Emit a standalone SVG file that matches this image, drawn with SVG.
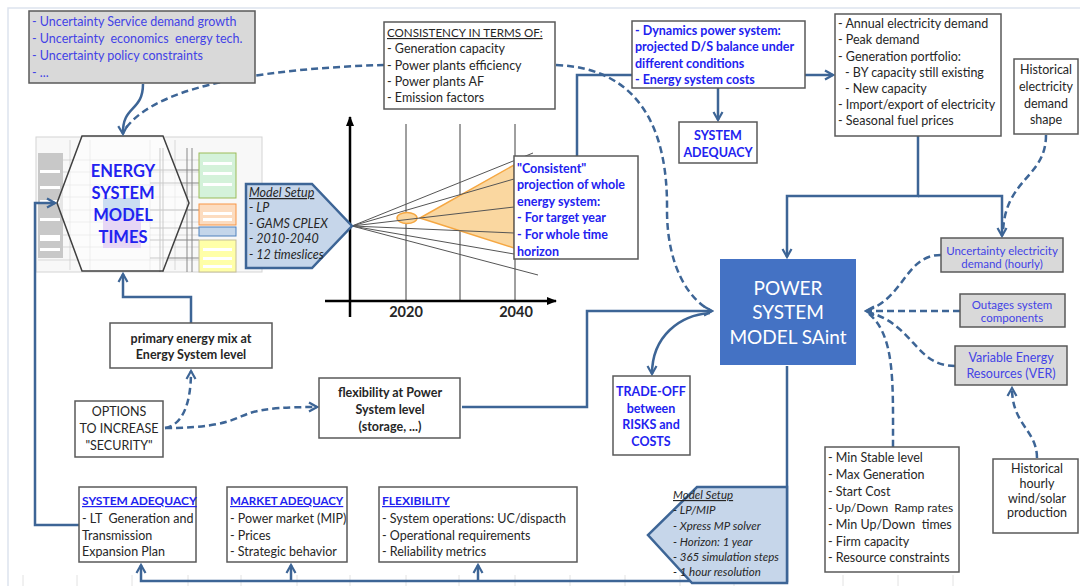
<svg xmlns="http://www.w3.org/2000/svg" width="1080" height="586" viewBox="0 0 1080 586">
<style>
.box{fill:#fff;stroke:#595959;stroke-width:1.5}
.gbox{fill:#d9d9d9;stroke:#595959;stroke-width:1.5}
.t{font-family:Lato,"Liberation Sans",sans-serif;font-size:12.5px;fill:#262626;white-space:pre}
.b{font-weight:bold}
.blue{fill:#2222f0}
.lblue{fill:#4343e6}
.u{text-decoration:underline}
.c{text-anchor:middle}
.i{font-style:italic}
.con{fill:none;stroke:#3d6596;stroke-width:2.5}
.dash{stroke-dasharray:7 4}
.pent{fill:#c6d6ea;stroke:#3d6596;stroke-width:2.5}
.grid{stroke:#cfcfcf;stroke-width:0.8}
.fan{stroke:#555;stroke-width:1}
</style>
<defs>
<marker id="ah" viewBox="0 0 12 12" refX="10" refY="6" markerWidth="12" markerHeight="12" markerUnits="userSpaceOnUse" orient="auto">
<path d="M2,1.5 L10,6 L2,10.5" fill="none" stroke="#3d6596" stroke-width="2.2"/>
</marker>
<marker id="ax" viewBox="0 0 10 10" refX="9" refY="5" markerWidth="10" markerHeight="10" markerUnits="userSpaceOnUse" orient="auto">
<path d="M0,1 L10,5 L0,9 Z" fill="#000"/>
</marker>
</defs>
<rect width="1080" height="586" fill="#fff"/>
<path d="M8,586 V8 H1080" fill="none" stroke="#dde3ee" stroke-width="1.5"/>
<g stroke="#e2e2e2" stroke-width="1">
<path d="M23,575V586M77,575V586M132,575V586M188,575V586M241,575V586M297,575V586M350,575V586M406,575V586M459,575V586M515,575V586M570,575V586M625,575V586M680,575V586M734,575V586M843,575V586M898,575V586M953,575V586"/>
</g>

<!-- Energy system model image -->
<g id="energy-system-model">
<rect x="36" y="137" width="226" height="135" fill="#f8f8f8" stroke="#d4d4d4" stroke-width="1"/>
<g class="grid">
<path d="M38,160H236M38,172H236M38,185H236M38,197H236M38,210H236M38,222H236M38,235H236M38,247H236M38,260H236"/>
<path d="M70,140V270M90,140V270M150,140V270M175,140V270"/>
</g>
<rect x="38" y="153" width="25" height="105" fill="#c8c8c8"/>
<g fill="#fff"><rect x="40" y="170" width="20" height="3"/><rect x="40" y="186" width="20" height="3"/><rect x="40" y="200" width="20" height="3"/><rect x="40" y="218" width="20" height="3"/><rect x="40" y="235" width="20" height="6"/><rect x="40" y="248" width="20" height="3"/></g>
<g stroke="#888" stroke-width="1"><path d="M160,148V272M163,148V272M187,148V272M192,148V272"/><path d="M150,170H199M150,183H199M150,210H199M150,228H199M150,240H199M150,258H199"/></g>
<rect x="199" y="153" width="37" height="45" fill="#d4f2da" stroke="#9bbb59"/>
<rect x="199" y="204" width="37" height="21" fill="#fcdcc0" stroke="#f79646"/>
<rect x="199" y="227" width="37" height="9" fill="#c4d6ea" stroke="#4f81bd"/>
<rect x="199" y="240" width="37" height="32" fill="#ffffa8" stroke="#c4bd97"/>
<g fill="#fff"><rect x="203" y="162" width="29" height="3"/><rect x="203" y="172" width="29" height="3"/><rect x="203" y="183" width="29" height="3"/><rect x="203" y="212" width="29" height="3"/><rect x="203" y="218" width="29" height="3"/><rect x="203" y="248" width="29" height="3"/><rect x="203" y="257" width="29" height="3"/><rect x="203" y="265" width="29" height="3"/></g>
<rect x="103" y="198" width="37" height="20" fill="#8db3e2"/>
<rect x="103" y="218" width="38" height="30" fill="#c9a6e8"/>
<polygon points="82,136 163,136 189,203 163,271 82,271 57,203" fill="#fff" fill-opacity="0.55" stroke="#404040" stroke-width="1.5"/>
<text class="t b blue c" style="font-size:16.5px" x="123" y="177">ENERGY</text>
<text class="t b blue c" style="font-size:16.5px" x="123" y="199">SYSTEM</text>
<text class="t b blue c" style="font-size:16.5px" x="123" y="221">MODEL</text>
<text class="t b blue c" style="font-size:16.5px" x="123" y="243">TIMES</text>
</g>

<!-- chart -->
<g id="chart">
<path d="M406,124V301M460,124V301M515,124V301" stroke="#404040" stroke-width="1"/>
<polygon points="420,218 514,165 514,248" fill="#fad7a0" stroke="#f5a742" stroke-width="1.5"/>
<ellipse cx="407" cy="218" rx="10" ry="5.5" fill="#fad7a0" stroke="#f5a742" stroke-width="1.5"/>
<g class="fan">
<path d="M352,226L533,153M352,226L514,179M352,226L514,207M352,226L514,233M352,226L514,254M352,226L538,275"/>
</g>
<path d="M350,317V117" stroke="#000" stroke-width="2.5" marker-end="url(#ax)"/>
<path d="M325,301H556" stroke="#000" stroke-width="2.5" marker-end="url(#ax)"/>
<text class="t b c" style="font-size:14.5px" x="406" y="317">2020</text>
<text class="t b c" style="font-size:14.5px" x="516" y="317">2040</text>
</g>

<!-- connectors -->
<g id="connectors">
<path class="con" d="M143,84 C143,112 122,105 123,134" marker-end="url(#ah)"/>
<path class="con dash" d="M384,65 C280,68 160,82 126,128"/>
<path class="con" d="M577,156 V75 H632"/>
<path class="con" d="M805,75 H833" marker-end="url(#ah)"/>
<path class="con" d="M718,88 V120" marker-end="url(#ah)"/>
<path class="con" d="M918,136 V196 H787 V257" marker-end="url(#ah)"/>
<path class="con" d="M918,196 H1002 V236" marker-end="url(#ah)"/>
<path class="con dash" d="M1046,135 C1046,178 1005,178 1003,232"/>
<path class="con" d="M462,407 H587 V311 H712" marker-end="url(#ah)"/>
<path class="con dash" d="M556,65 C640,68 668,130 667,210 C667,268 690,300 710,310"/>
<path class="con" d="M710,313 C680,315 652,336 652,374" marker-end="url(#ah)"/>
<path class="con dash" d="M941,255 C905,255 905,298 866,311"/>
<path class="con dash" d="M960,311 H866" marker-end="url(#ah)"/>
<path class="con dash" d="M955,366 C915,366 915,325 868,312"/>
<path class="con dash" d="M893,447 C893,380 895,335 868,313"/>
<path class="con dash" d="M1037,458 C1037,430 1012,425 1012,388" marker-end="url(#ah)"/>
<path class="con" d="M79,525 H35 V203 H55" marker-end="url(#ah)"/>
<path class="con" d="M191,323 V297 H123 V274" marker-end="url(#ah)"/>
<path class="con" d="M787,366 V581 H141 V565" marker-end="url(#ah)"/>
<path class="con" d="M291,581 V565" marker-end="url(#ah)"/>
<path class="con" d="M478,581 V565" marker-end="url(#ah)"/>
<path class="con dash" d="M165,428 C182,425 191,405 191,371" marker-end="url(#ah)"/>
<path class="con dash" d="M165,428 C225,428 235,418 250,413 C265,408 290,407 317,407" marker-end="url(#ah)"/>
</g>

<g id="uncertainty-es">
<rect class="gbox" x="29" y="11" width="226" height="72"/>
<text class="t lblue" x="32" y="26">- Uncertainty Service demand growth</text>
<text class="t lblue" x="32" y="43">- Uncertainty  economics  energy tech.</text>
<text class="t lblue" x="32" y="60">- Uncertainty policy constraints</text>
<text class="t lblue" x="32" y="77">- ...</text>
</g>

<g id="model-setup-es">
<polygon class="pent" points="246,184 312,184 352,226 312,268 246,268"/>
<text class="t i u" x="249" y="197">Model Setup</text>
<text class="t i" x="249" y="212">- LP</text>
<text class="t i" x="249" y="228">- GAMS CPLEX</text>
<text class="t i" x="249" y="243">- 2010-2040</text>
<text class="t i" x="249" y="259">- 12 timeslices</text>
</g>

<g id="consistency">
<rect class="box" x="384" y="22" width="171" height="87"/>
<text class="t u" style="font-size:11.6px" x="387" y="37">CONSISTENCY IN TERMS OF:</text>
<text class="t" x="387" y="53">- Generation capacity</text>
<text class="t" x="387" y="70">- Power plants efficiency</text>
<text class="t" x="387" y="86">- Power plants AF</text>
<text class="t" x="387" y="102">- Emission factors</text>
</g>

<g id="dynamics">
<rect class="box" x="632" y="21" width="173" height="67"/>
<text class="t b blue" x="635" y="35">- Dynamics power system:</text>
<text class="t b blue" x="635" y="51">projected D/S balance under</text>
<text class="t b blue" x="635" y="68">different conditions</text>
<text class="t b blue" x="635" y="84">- Energy system costs</text>
</g>

<g id="system-adequacy-top">
<rect class="box" x="679" y="122" width="78" height="41"/>
<text class="t b blue c" x="718" y="140">SYSTEM</text>
<text class="t b blue c" x="718" y="157">ADEQUACY</text>
</g>

<g id="annual">
<rect class="box" x="835" y="14" width="166" height="122"/>
<text class="t" x="838" y="28">- Annual electricity demand</text>
<text class="t" x="838" y="44">- Peak demand</text>
<text class="t" x="838" y="61">- Generation portfolio:</text>
<text class="t" x="845" y="77">- BY capacity still existing</text>
<text class="t" x="845" y="93">- New capacity</text>
<text class="t" x="838" y="109">- Import/export of electricity</text>
<text class="t" x="838" y="125">- Seasonal fuel prices</text>
</g>

<g id="hist-demand">
<rect class="box" x="1014" y="59" width="64" height="75"/>
<text class="t c" x="1046" y="74">Historical</text>
<text class="t c" x="1046" y="91">electricity</text>
<text class="t c" x="1046" y="108">demand</text>
<text class="t c" x="1046" y="124">shape</text>
</g>

<g id="consistent">
<rect class="box" x="514" y="156" width="124" height="103"/>
<text class="t b blue" x="517" y="173">"Consistent"</text>
<text class="t b blue" x="517" y="189">projection of whole</text>
<text class="t b blue" x="517" y="206">energy system:</text>
<text class="t b blue" x="517" y="222">- For target year</text>
<text class="t b blue" x="517" y="239">- For whole time</text>
<text class="t b blue" x="517" y="256">horizon</text>
</g>

<g id="power-system">
<rect x="720" y="259" width="136" height="106" fill="#4472c4"/>
<text class="t c" style="font-size:19px;fill:#fff" x="788" y="295">POWER</text>
<text class="t c" style="font-size:19px;fill:#fff" x="788" y="319">SYSTEM</text>
<text class="t c" style="font-size:19px;fill:#fff" x="788" y="344">MODEL SAint</text>
</g>

<g id="uncert-demand">
<rect class="gbox" x="941" y="238" width="122" height="34"/>
<text class="t c lblue" style="font-size:11.5px" x="1002" y="255">Uncertainty electricity</text>
<text class="t c lblue" style="font-size:11.5px" x="1002" y="268">demand (hourly)</text>
</g>
<g id="outages">
<rect class="gbox" x="960" y="294" width="105" height="33"/>
<text class="t c lblue" style="font-size:11.5px" x="1012" y="309">Outages system</text>
<text class="t c lblue" style="font-size:11.5px" x="1012" y="322">components</text>
</g>
<g id="ver">
<rect class="gbox" x="955" y="346" width="112" height="39"/>
<text class="t c lblue" x="1011" y="362">Variable Energy</text>
<text class="t c lblue" x="1011" y="378">Resources (VER)</text>
</g>

<g id="primary-mix">
<rect class="box" x="110" y="323" width="162" height="45"/>
<text class="t b c" x="191" y="343">primary energy mix at</text>
<text class="t b c" x="191" y="359">Energy System level</text>
</g>

<g id="options">
<rect class="box" x="75" y="401" width="88" height="56"/>
<text class="t c" x="119" y="416">OPTIONS</text>
<text class="t c" x="119" y="433">TO INCREASE</text>
<text class="t c" x="119" y="450">"SECURITY"</text>
</g>

<g id="flex-power">
<rect class="box" x="319" y="378" width="141" height="60"/>
<text class="t b c" x="390" y="397">flexibility at Power</text>
<text class="t b c" x="390" y="414">System level</text>
<text class="t b c" x="390" y="431">(storage, ...)</text>
</g>

<g id="tradeoff">
<rect class="box" x="613" y="376" width="77" height="79"/>
<text class="t b blue c" x="651" y="396">TRADE-OFF</text>
<text class="t b blue c" x="651" y="413">between</text>
<text class="t b blue c" x="651" y="429">RISKS and</text>
<text class="t b blue c" x="651" y="446">COSTS</text>
</g>

<g id="sys-adequacy">
<rect class="box" x="79" y="487" width="117" height="75"/>
<text class="t b blue u" style="font-size:12px" x="82" y="505">SYSTEM ADEQUACY</text>
<text class="t" x="82" y="523">- LT  Generation and</text>
<text class="t" x="82" y="540">Transmission</text>
<text class="t" x="82" y="556">Expansion Plan</text>
</g>
<g id="market-adequacy">
<rect class="box" x="227" y="487" width="120" height="75"/>
<text class="t b blue u" style="font-size:11.5px" x="230" y="505">MARKET ADEQUACY</text>
<text class="t" x="230" y="523">- Power market (MIP)</text>
<text class="t" x="230" y="540">- Prices</text>
<text class="t" x="230" y="556">- Strategic behavior</text>
</g>
<g id="flexibility">
<rect class="box" x="379" y="487" width="198" height="75"/>
<text class="t b blue u" style="font-size:12px" x="382" y="505">FLEXIBILITY</text>
<text class="t" x="382" y="523">- System operations: UC/dispacth</text>
<text class="t" x="382" y="540">- Operational requirements</text>
<text class="t" x="382" y="556">- Reliability metrics</text>
</g>

<g id="model-setup-ps">
<polygon class="pent" points="697,487 787,487 787,583 692,583 648,535"/>
<text class="t i u" style="font-size:11.5px" x="673" y="499">Model Setup</text>
<text class="t i" style="font-size:11.5px" x="673" y="514">- LP/MIP</text>
<text class="t i" style="font-size:11.5px" x="673" y="530">- Xpress MP solver</text>
<text class="t i" style="font-size:11.5px" x="673" y="546">- Horizon: 1 year</text>
<text class="t i" style="font-size:11.5px" x="673" y="561">- 365 simulation steps</text>
<text class="t i" style="font-size:11.5px" x="673" y="576">- 1 hour resolution</text>
</g>

<g id="unit-params">
<rect class="box" x="825" y="447" width="134" height="125"/>
<text class="t" x="828" y="462">- Min Stable level</text>
<text class="t" x="828" y="479">- Max Generation</text>
<text class="t" x="828" y="496">- Start Cost</text>
<text class="t" style="font-size:12px" x="828" y="512">- Up/Down  Ramp rates</text>
<text class="t" x="828" y="529">- Min Up/Down  times</text>
<text class="t" x="828" y="546">- Firm capacity</text>
<text class="t" x="828" y="562">- Resource constraints</text>
</g>

<g id="hist-hourly">
<rect class="box" x="993" y="459" width="85" height="74"/>
<text class="t c" x="1037" y="473">Historical</text>
<text class="t c" x="1037" y="488">hourly</text>
<text class="t c" x="1037" y="503">wind/solar</text>
<text class="t c" x="1037" y="517">production</text>
</g>
</svg>
